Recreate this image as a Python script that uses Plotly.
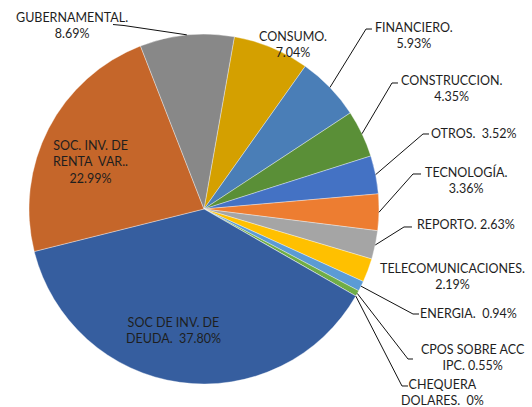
import math
import plotly.graph_objects as go

# Portfolio composition by sector (percent), clockwise from the top
labels = [
    "CONSUMO", "FINANCIERO", "CONSTRUCCION", "OTROS", "TECNOLOGÍA", "REPORTO",
    "TELECOMUNICACIONES", "ENERGIA", "CPOS SOBRE ACC IPC", "CHEQUERA DOLARES",
    "SOC DE INV. DE DEUDA", "SOC. INV. DE RENTA VAR.", "GUBERNAMENTAL",
]
values = [7.04, 5.93, 4.35, 3.52, 3.36, 2.63, 2.19, 0.94, 0.55, 0.0, 37.80, 22.99, 8.69]
value_text = ["7.04%", "5.93%", "4.35%", "3.52%", "3.36%", "2.63%", "2.19%",
              "0.94%", "0.55%", "0%", "37.80%", "22.99%", "8.69%"]
colors = ["#D4A000", "#4A7EB7", "#5A8F37", "#4472C4", "#ED7D31", "#A5A5A5",
          "#FFC000", "#5B9BD5", "#70AD47", "#264478", "#365E9F", "#C5662A", "#888888"]

W, H = 532, 407
CX, CY, R = 204, 209, 175   # pie centre and radius in pixels
START = 10                  # first slice starts 10 degrees clockwise from 12 o'clock


def px(x, y):
    return x / W, 1 - y / H


fig = go.Figure(go.Pie(
    labels=labels, values=values, sort=False, direction="clockwise",
    rotation=START, textinfo="none", hoverinfo="label+percent",
    marker=dict(colors=colors, line=dict(color="rgba(255,255,255,0.6)", width=0.6)),
    domain=dict(x=[(CX - R) / W, (CX + R) / W], y=[1 - (CY + R) / H, 1 - (CY - R) / H]),
    showlegend=False,
))

# label text for each slice, and its placement (pixel centre of the text block)
label_lines = {
    0: ("CONSUMO.<br>{}", 293, 45),
    1: ("FINANCIERO.<br>{}", 414, 36),
    2: ("CONSTRUCCION.<br>{}", 451, 89),
    3: ("OTROS.\u00a0 {}", 474, 133),
    4: ("TECNOLOGÍA.<br>{}", 466, 180),
    5: ("REPORTO. {}", 466, 224),
    6: ("TELECOMUNICACIONES.<br>{}", 452, 276),
    7: ("ENERGIA.\u00a0 {}", 468, 313),
    8: ("CPOS SOBRE ACC<br>IPC. {}", 473, 357),
    9: ("CHEQUERA<br>DOLARES.\u00a0 {}", 442, 392),
    10: ("SOC DE INV. DE<br>DEUDA.\u00a0 {}", 173, 330),
    11: ("SOC. INV. DE<br>RENTA\u00a0 VAR..<br>{}", 90, 162),
    12: ("GUBERNAMENTAL.<br>{}", 72, 26),
}

# leader line anchor points near each label (pixels): label end, elbow
leaders = {
    1: [(372, 29), (366, 29)],
    2: [(398, 83), (392, 83)],
    3: [(429, 134), (423, 134)],
    4: [(421, 174), (413, 174)],
    5: [(412, 227), (404, 227)],
    7: [(419, 314), (413, 314)],
    8: [(413, 359), (408, 359)],
    9: [(408, 386), (402, 386)],
    12: [(113, 24.5), (124, 25.5)],
}

total = sum(values)
angle = START
mids = []
for v in values:
    span = 360 * v / total
    mids.append(angle + span / 2)
    angle += span

font = dict(family="Lato, Calibri, sans-serif", size=12.5, color="#1e1e1e")
for i, (tmpl, x, y) in label_lines.items():
    ax, ay = px(x, y)
    fig.add_annotation(x=ax, y=ay, xref="paper", yref="paper", showarrow=False,
                       text=tmpl.format(value_text[i]), font=font,
                       xanchor="center", yanchor="middle", align="center")

for i, pts in leaders.items():
    a = math.radians(mids[i])
    ex, ey = CX + R * math.sin(a), CY - R * math.cos(a)
    path_pts = pts + [(ex, ey)]
    d = "M " + " L ".join("{:.4f},{:.4f}".format(*px(x, y)) for x, y in path_pts)
    fig.add_shape(type="path", path=d, xref="paper", yref="paper",
                  line=dict(color="#111111", width=1))

fig.update_layout(width=W, height=H, margin=dict(l=0, r=0, t=0, b=0),
                  paper_bgcolor="white", plot_bgcolor="white")
fig.write_html("out.html")
